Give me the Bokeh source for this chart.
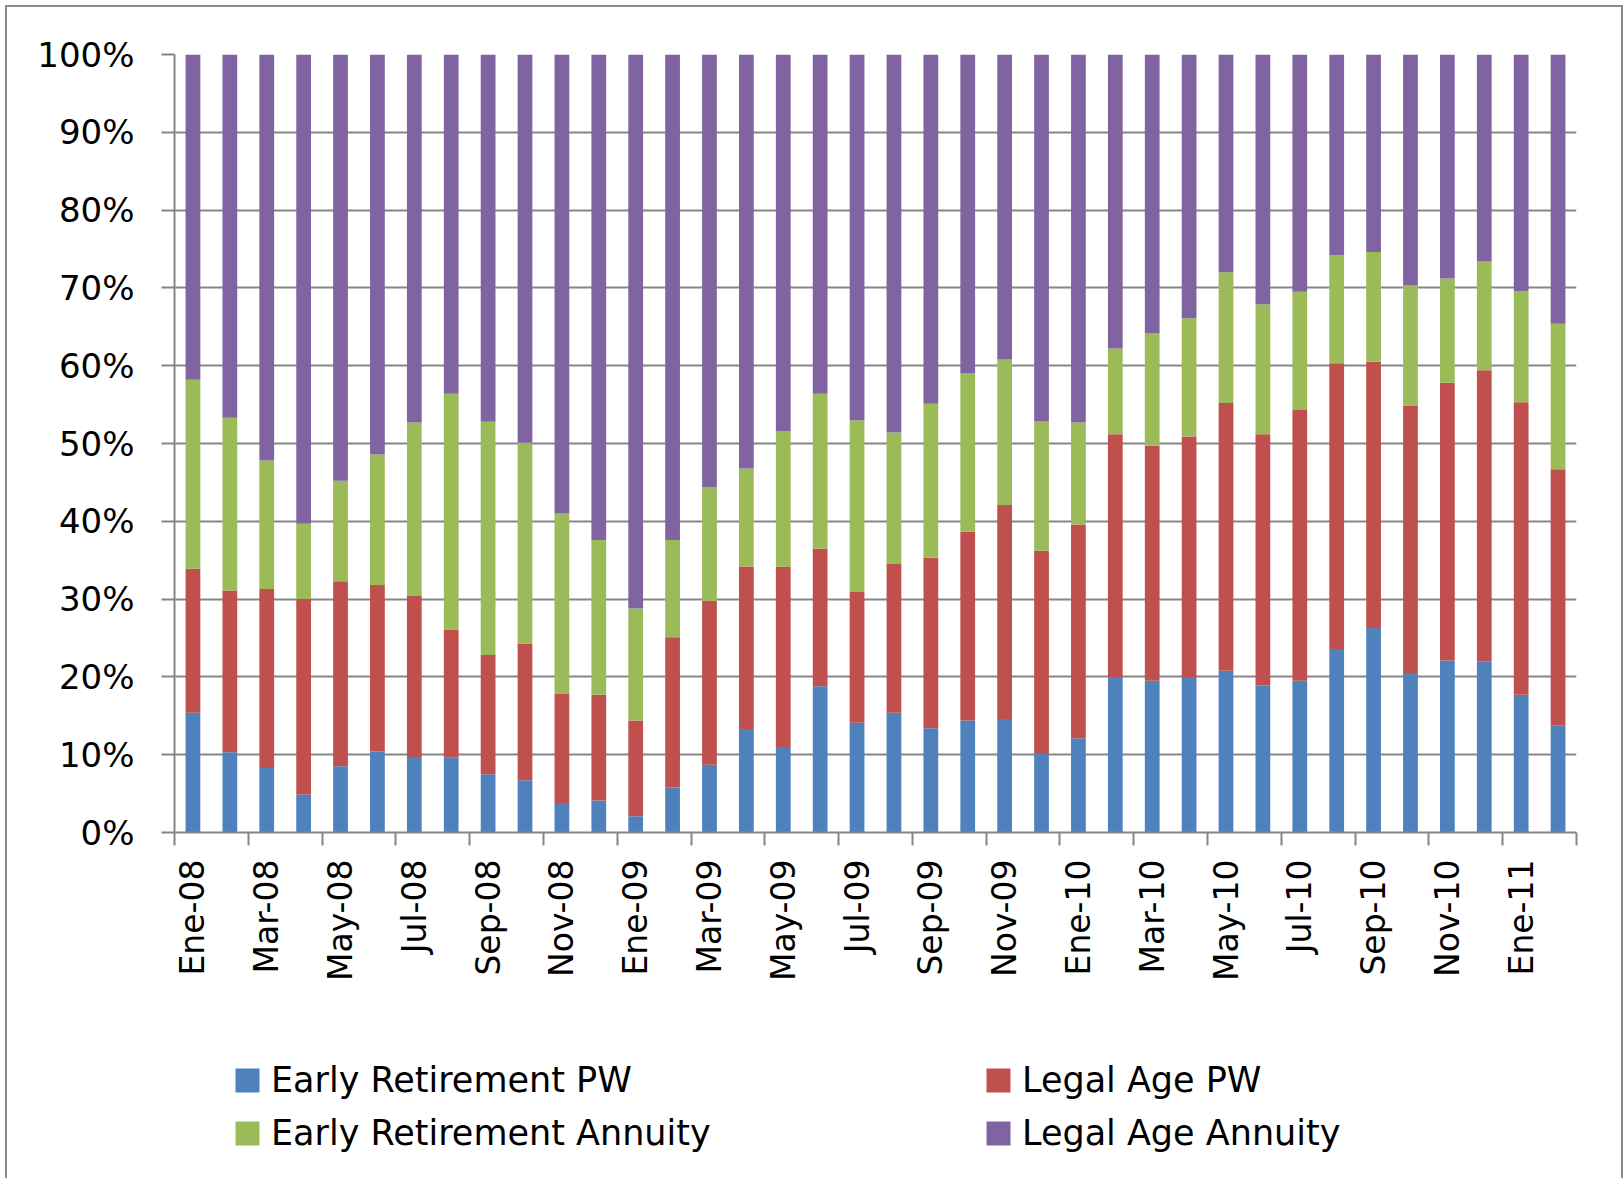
import math
from bokeh.plotting import figure
from bokeh.layouts import column
from bokeh.models import (Range1d, LinearAxis, FixedTicker, PrintfTickFormatter,
                          CustomJSTickFormatter, Legend, LegendItem, ColumnDataSource)
from bokeh.embed import file_html
from bokeh.resources import INLINE

months = ["Ene-08", "Feb-08", "Mar-08", "Abr-08", "May-08", "Jun-08", "Jul-08", "Ago-08",
          "Sep-08", "Oct-08", "Nov-08", "Dic-08",
          "Ene-09", "Feb-09", "Mar-09", "Abr-09", "May-09", "Jun-09", "Jul-09", "Ago-09",
          "Sep-09", "Oct-09", "Nov-09", "Dic-09",
          "Ene-10", "Feb-10", "Mar-10", "Abr-10", "May-10", "Jun-10", "Jul-10", "Ago-10",
          "Sep-10", "Oct-10", "Nov-10", "Dic-10",
          "Ene-11", "Feb-11"]

early_retirement_pw = [15.4, 10.3, 8.3, 4.9, 8.5, 10.4, 9.7, 9.6, 7.5, 6.7, 3.8, 4.1,
                       2.1, 5.8, 8.7, 13.3, 11.0, 18.8, 14.1, 15.4, 13.4, 14.4, 14.6, 10.1,
                       12.1, 20.0, 19.5, 20.0, 20.8, 18.9, 19.5, 23.6, 26.3, 20.5, 22.1, 22.0,
                       17.7, 13.8]
legal_age_pw = [18.5, 20.8, 23.0, 25.1, 23.8, 21.4, 20.7, 16.5, 15.3, 17.6, 14.0, 13.6,
                12.3, 19.3, 21.1, 20.9, 23.2, 17.7, 16.8, 19.1, 21.9, 24.3, 27.5, 26.1,
                27.5, 31.2, 30.2, 30.9, 34.4, 32.3, 34.8, 36.7, 34.2, 34.4, 35.7, 37.4,
                37.6, 32.9]
early_retirement_annuity = [24.3, 22.2, 16.5, 9.7, 12.9, 16.8, 22.3, 30.3, 30.0, 25.8, 23.2, 19.9,
                            14.4, 12.5, 14.6, 12.6, 17.4, 19.9, 22.1, 16.9, 19.8, 20.3, 18.7, 16.7,
                            13.1, 11.0, 14.5, 15.2, 16.8, 16.7, 15.2, 13.9, 14.1, 15.4, 13.4, 14.0,
                            14.3, 18.7]
legal_age_annuity = [41.8, 46.7, 52.2, 60.3, 54.8, 51.4, 47.3, 43.6, 47.2, 49.9, 59.0, 62.4,
                     71.2, 62.4, 55.6, 53.2, 48.4, 43.6, 47.0, 48.6, 44.9, 41.0, 39.2, 47.1,
                     47.3, 37.8, 35.8, 33.9, 28.0, 32.1, 30.5, 25.8, 25.4, 29.7, 28.8, 26.6,
                     30.4, 34.6]

series_names = ["Early Retirement PW", "Legal Age PW", "Early Retirement Annuity", "Legal Age Annuity"]
series_colors = ["#4F81BD", "#C0504D", "#9BBB59", "#8064A2"]
y_ticks = [0, 10, 20, 30, 40, 50, 60, 70, 80, 90, 100]

FONT = "DejaVu Sans"
GRID = "#868686"

keys = ["erpw", "lapw", "era", "laa"]
source = ColumnDataSource(data=dict(
    x=[i + 0.5 for i in range(len(months))],
    erpw=early_retirement_pw, lapw=legal_age_pw,
    era=early_retirement_annuity, laa=legal_age_annuity,
))

# ---------------- main chart ----------------
p = figure(frame_width=1402, frame_height=778,
           x_range=Range1d(0, len(months)), y_range=Range1d(0, 100),
           x_axis_type=None, output_backend="svg", toolbar_location=None,
           min_border_left=167, min_border_right=45, min_border_top=47, min_border_bottom=200)
p.outline_line_color = None
p.background_fill_color = "white"
p.border_fill_color = "white"

p.vbar_stack(keys, x="x", width=0.4, color=series_colors, line_color=None, source=source)

yax = p.yaxis[0]
yax.ticker = FixedTicker(ticks=y_ticks)
yax.formatter = PrintfTickFormatter(format="%d%%")
yax.axis_line_color = GRID
yax.axis_line_width = 2
yax.major_tick_line_color = GRID
yax.major_tick_line_width = 2
yax.major_tick_out = 13
yax.major_tick_in = 0
yax.minor_tick_line_color = None
yax.major_label_text_font = FONT
yax.major_label_text_font_size = "34px"
yax.major_label_text_color = "black"
yax.major_label_standoff = 27

p.ygrid.ticker = FixedTicker(ticks=y_ticks)
p.ygrid.grid_line_color = GRID
p.ygrid.grid_line_width = 2

# x axis: tick marks at category boundaries every two months
ax_ticks = LinearAxis(ticker=FixedTicker(ticks=list(range(0, len(months) + 1, 2))),
                      formatter=CustomJSTickFormatter(code="return '';"),
                      axis_line_color=GRID, axis_line_width=2,
                      major_tick_line_color=GRID, major_tick_line_width=2,
                      major_tick_out=13, major_tick_in=0,
                      minor_tick_line_color=None,
                      major_label_text_font_size="1px", major_label_standoff=0)
p.add_layout(ax_ticks, "below")

# x axis: labels centred on every other month
label_ticks = [i + 0.5 for i in range(0, len(months), 2)]
ax_labels = LinearAxis(ticker=FixedTicker(ticks=label_ticks),
                       formatter=CustomJSTickFormatter(args=dict(months=months),
                                                       code="return months[Math.floor(tick)];"),
                       axis_line_color=None, major_tick_line_color=None, minor_tick_line_color=None,
                       major_tick_out=0, major_tick_in=0,
                       major_label_orientation=math.pi / 2,
                       major_label_standoff=14,
                       major_label_text_font=FONT, major_label_text_font_size="33px",
                       major_label_text_color="black")
p.add_layout(ax_labels, "below")

# ---------------- legend strip ----------------
lf = figure(frame_width=1402, frame_height=148,
            x_range=Range1d(0, 1), y_range=Range1d(0, 1),
            x_axis_type=None, y_axis_type=None, output_backend="svg", toolbar_location=None,
            min_border_left=167, min_border_right=45, min_border_top=0, min_border_bottom=0)
lf.outline_line_color = None
lf.grid.visible = False
lf.background_fill_color = "white"
lf.border_fill_color = "white"

items = []
for name, color in zip(series_names, series_colors):
    # zero-height swatch placed outside the visible range, only used for the legend key
    r = lf.vbar(x=[-5], top=[0], width=0.4, color=color, line_color=None)
    items.append(LegendItem(label=name, renderers=[r]))

legend = Legend(items=items, location=(58, 27), orientation="horizontal", ncols=2,
                glyph_width=30, glyph_height=30, label_standoff=9, label_width=699,
                label_height=24, spacing=13, padding=0, margin=0,
                border_line_color=None, background_fill_alpha=0,
                label_text_font=FONT, label_text_font_size="35px", label_text_color="black")
lf.add_layout(legend)

layout = column(p, lf, spacing=0,
                styles={"margin-left": "7px", "margin-top": "7px",
                        "box-shadow": "-2px -2px 0 0 #8c8c8c, 2px -2px 0 0 #8c8c8c"})

open("out.html", "w").write(file_html(layout, INLINE))
